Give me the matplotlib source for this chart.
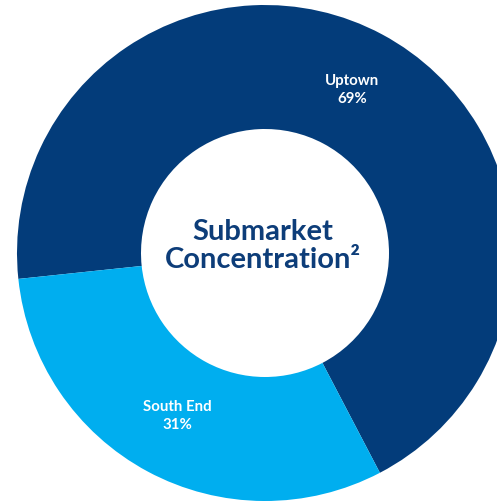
import matplotlib.pyplot as plt

# 市場別の構成比
submarkets = ['Uptown', 'South End']
shares = [69, 31]
colors = ['#033c7a', '#00aeef']

center_title = 'Submarket\nConcentration²'

fig = plt.figure(figsize=(4.97, 5.03), dpi=100)
ax = fig.add_axes([0, 0, 1, 1])

labels = [f'{name}\n{pct}%' for name, pct in zip(submarkets, shares)]
wedges, texts = ax.pie(
    shares,
    colors=colors,
    startangle=186,
    counterclock=False,
    radius=1.0,
    labels=labels,
    labeldistance=0.745,
    wedgeprops=dict(width=0.5, edgecolor='none'),
    textprops=dict(color='white', fontsize=10.8, fontweight='bold',
                   family=['Lato', 'DejaVu Sans'], linespacing=1.35),
)
for t in texts:
    t.set_horizontalalignment('center')
    t.set_verticalalignment('center')

ax.text(-0.01, 0.03, center_title, ha='center', va='center',
        color='#0d3d79', fontsize=21, fontweight='bold',
        family=['Lato', 'DejaVu Sans'], linespacing=1.1)

# 右側がはみ出すように表示範囲を調整
ax.set_xlim(-265 / 248, 232 / 248)
ax.set_ylim(-250 / 248, 253 / 248)
ax.set_aspect('equal')
ax.axis('off')

fig.savefig('out.png', dpi=100)
